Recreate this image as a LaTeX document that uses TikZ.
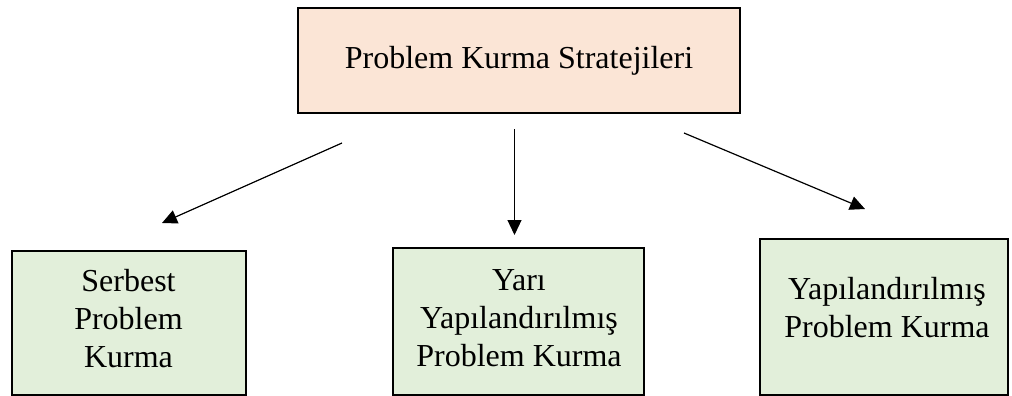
\documentclass[tikz,border=0pt]{standalone}
\usepackage{fontspec}
\setmainfont{Liberation Serif}
\usetikzlibrary{arrows.meta}
\definecolor{peach}{HTML}{FBE5D6}
\definecolor{sage}{HTML}{E2EFDA}
\begin{document}
\begin{tikzpicture}[x=1pt,y=-1pt,
  headbox/.style={draw=black, line width=2.6pt, fill=peach, inner sep=0pt,
    minimum width=442pt, minimum height=105pt, font=\fontsize{32}{38}\selectfont},
  leafbox/.style={draw=black, line width=2pt, fill=sage, inner sep=0pt},
  caption/.style={font=\fontsize{32}{38}\selectfont, align=center, inner sep=0pt},
  arrow/.style={line width=1.2pt, -{Triangle[length=15pt,width=14pt]}}]
\useasboundingbox (0,0) rectangle (1012,396);

% root box
\node[headbox] (root) at (519,60.5) {Problem Kurma Stratejileri};

% three strategy boxes
\node[leafbox, minimum width=234pt, minimum height=144pt] (free) at (129,323) {};
\node[leafbox, minimum width=251pt, minimum height=147pt] (semi) at (518.5,321.5) {};
\node[leafbox, minimum width=248pt, minimum height=156pt] (struct) at (884,317) {};

\node[caption] (free-text) at (128.5,319) {Serbest\\Problem\\Kurma};
\node[caption] (semi-text) at (519,318) {Yarı\\Yapılandırılmış\\Problem Kurma};
\node[caption] (struct-text) at (887,308) {Yapılandırılmış\\Problem Kurma};

% free-standing arrow ends between the root and the strategy boxes
\coordinate (free-from) at (342,143);
\coordinate (free-to) at (162,223);
\coordinate (semi-from) at (514.5,129);
\coordinate (semi-to) at (514.5,235);
\coordinate (struct-from) at (684,133);
\coordinate (struct-to) at (865,209);

\draw[arrow] (free-from) -- (free-to);
\draw[arrow] (semi-from) -- (semi-to);
\draw[arrow] (struct-from) -- (struct-to);
\end{tikzpicture}
\end{document}
